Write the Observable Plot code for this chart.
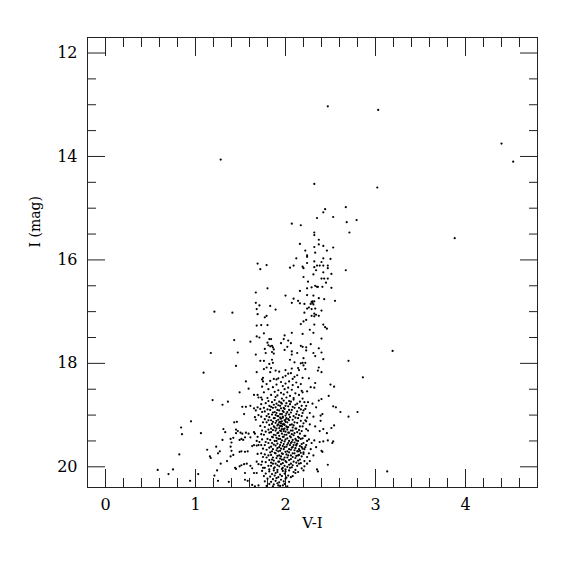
<!DOCTYPE html>
<html><head><meta charset="utf-8">
<script src="https://cdn.jsdelivr.net/npm/d3@7"></script>
<script src="https://cdn.jsdelivr.net/npm/@observablehq/plot@0.6"></script>
<style>body{margin:0;background:#fff;}</style>
</head><body><div id="chart"></div>
<script>
// [V-I, I] pairs
const outliers = [[2.47,13.03],[3.03,13.10],[4.40,13.75],[4.53,14.10],[1.28,14.06],[2.32,14.53],[3.02,14.60],[3.88,15.58],[3.19,17.76],[2.86,18.27],[3.13,20.09]];

const upperBranch = [[2.44,15.02],[2.67,14.98],[2.42,15.08],[2.53,15.17],[2.35,15.19],[2.79,15.23],[2.68,15.27],[2.07,15.30],[2.17,15.33],[2.71,15.47],[2.32,15.47],[2.32,15.52],[2.37,15.61],[2.16,15.69],[2.32,15.75],[2.42,15.73],[2.53,15.76],[2.22,15.82],[2.37,15.70],[2.46,15.82],[2.33,15.86],[2.24,15.91],[2.24,15.94],[2.12,15.97],[2.50,15.98],[2.42,15.97],[2.32,16.03],[2.24,16.06],[2.40,16.04],[2.35,16.11],[2.38,16.11],[2.42,16.11],[2.47,16.11],[2.32,16.14],[2.19,16.13],[2.20,16.16],[2.05,16.15],[2.09,16.11],[2.47,16.16],[2.34,16.20],[2.67,16.20],[1.69,16.07],[1.79,16.10],[1.72,16.18],[2.42,16.24],[2.51,16.27],[2.31,16.28],[2.20,16.33],[2.40,16.36],[2.43,16.36],[2.47,16.36]];

const middleBranch = [[2.25,16.42],[2.45,16.44],[2.33,16.50],[2.35,16.52],[2.36,16.52],[2.41,16.52],[2.51,16.54],[2.24,16.55],[2.29,16.53],[1.67,16.63],[1.80,16.55],[2.16,16.60],[2.00,16.69],[2.24,16.68],[2.31,16.69],[2.37,16.74],[2.43,16.76],[2.09,16.75],[2.07,16.83],[2.14,16.79],[2.16,16.84],[2.21,16.85],[2.29,16.81],[2.30,16.80],[2.32,16.80],[2.28,16.85],[2.30,16.83],[2.31,16.86],[2.55,16.79],[1.67,16.83],[1.71,16.88],[1.83,16.89],[1.89,16.96],[1.68,16.95],[2.24,16.94],[2.26,16.92],[2.29,16.95],[2.33,16.94],[2.40,16.98],[1.69,17.05],[1.79,17.08],[1.77,17.11],[2.21,17.02],[2.32,17.04],[2.34,17.06],[2.29,17.08],[2.32,17.09],[2.37,17.08],[2.23,17.16],[2.20,17.19],[2.17,17.24],[2.32,17.25],[2.42,17.25],[2.44,17.30],[2.46,17.33],[1.68,17.27],[1.73,17.26],[1.80,17.26],[2.27,17.35],[2.07,17.41],[2.19,17.43],[2.31,17.41],[1.76,17.42],[1.68,17.48],[1.71,17.50],[1.82,17.53],[1.84,17.53],[1.99,17.46],[1.98,17.53],[1.95,17.61],[1.80,17.60],[1.81,17.65],[1.83,17.67],[1.85,17.66],[2.03,17.56],[2.06,17.61],[2.02,17.68],[2.17,17.66],[2.19,17.68],[2.23,17.69],[2.28,17.63],[2.40,17.52],[2.37,17.71],[1.77,17.72],[1.86,17.69],[1.87,17.73],[1.78,17.80],[1.85,17.78],[1.87,17.81],[1.99,17.74],[2.07,17.77],[2.13,17.80],[2.23,17.75],[2.31,17.80],[2.40,17.79],[2.33,17.86],[1.67,17.83],[2.07,17.83],[2.20,17.90],[2.05,17.93],[2.10,17.98],[2.17,18.00],[2.19,17.99],[2.22,17.99],[2.20,18.04],[2.42,17.92],[2.70,17.95],[1.72,17.95],[1.76,17.95],[1.85,17.93],[1.82,18.01],[1.86,17.99],[1.79,18.08],[1.76,18.11],[1.84,18.09],[1.83,18.17],[1.89,18.14],[1.93,18.16],[2.00,18.13],[2.07,18.10],[2.14,18.09],[2.15,18.13],[2.22,18.11],[2.37,18.08],[2.36,18.14],[2.40,18.17],[2.03,18.20],[2.06,18.19],[2.00,18.24],[1.97,18.27],[1.92,18.29],[1.87,18.30],[1.75,18.28],[1.74,18.31],[1.68,18.17],[2.10,18.26],[2.13,18.23],[2.19,18.28],[2.26,18.29],[2.08,18.30],[1.90,18.31]];

const blueSide = [[1.21,17.00],[1.41,17.02],[1.43,17.55],[1.61,17.58],[1.17,17.80],[1.47,17.79],[1.45,18.05],[1.09,18.18],[1.56,18.35],[1.59,18.49],[1.49,18.56],[1.65,18.61],[1.69,18.61],[1.70,18.66],[1.19,18.71],[1.36,18.74],[1.30,18.80],[1.52,18.84],[1.56,18.84],[1.61,18.82],[1.65,18.87],[1.67,18.91],[1.69,18.85],[0.95,19.12],[1.54,18.98],[1.66,19.04],[1.67,19.09],[1.70,19.00],[1.43,19.14],[1.46,19.13],[0.84,19.24],[0.85,19.37],[1.06,19.35],[1.31,19.27],[1.33,19.33],[1.45,19.28],[1.47,19.31],[1.45,19.35],[1.50,19.34],[1.52,19.36],[1.56,19.34],[1.59,19.36],[1.61,19.43],[1.55,19.43],[1.51,19.46],[1.49,19.48],[1.53,19.48],[1.39,19.46],[1.42,19.44],[1.40,19.53],[1.30,19.48],[1.65,19.33],[1.66,19.36],[1.69,19.42],[1.68,19.50],[1.71,19.52],[1.23,19.61],[1.39,19.61],[1.40,19.69],[1.49,19.71],[1.51,19.70],[1.55,19.71],[1.58,19.70],[1.63,19.60],[1.65,19.58],[1.68,19.59],[1.70,19.58],[1.69,19.75],[1.13,19.67],[1.27,19.70],[1.25,19.74],[1.16,19.80],[1.17,19.83],[0.82,19.76],[1.28,19.94],[1.35,19.89],[1.39,19.80],[1.42,19.77],[1.44,20.02],[1.45,20.04],[1.49,19.99],[1.51,19.97],[1.54,19.95],[1.57,19.94],[1.61,19.98],[1.63,20.03],[1.68,19.90],[1.70,19.95],[1.65,20.12],[1.68,20.12],[0.58,20.06],[0.70,20.14],[0.75,20.05],[1.24,20.07],[1.21,20.17],[1.03,20.14],[0.94,20.27],[1.25,20.27],[1.37,20.29],[1.55,20.12],[1.55,20.25],[1.58,20.27],[1.66,20.38],[1.70,20.36],[1.63,20.35]];

const redSide = [[2.33,18.38],[2.28,18.46],[2.32,18.47],[2.50,18.41],[2.54,18.45],[2.48,18.63],[2.19,18.56],[2.24,18.54],[2.37,18.72],[2.40,18.69],[2.34,18.85],[2.30,18.78],[2.53,18.83],[2.56,18.85],[2.61,18.94],[2.70,19.03],[2.80,18.94],[2.39,19.01],[2.41,18.98],[2.39,19.11],[2.31,19.03],[2.27,18.96],[2.24,19.05],[2.54,19.20],[2.51,19.25],[2.42,19.27],[2.46,19.35],[2.38,19.31],[2.33,19.22],[2.27,19.18],[2.47,19.49],[2.52,19.54],[2.53,19.51],[2.38,19.52],[2.42,19.51],[2.32,19.49],[2.26,19.47],[2.29,19.54],[2.40,19.69],[2.41,19.71],[2.34,19.62],[2.31,19.78],[2.24,19.81],[2.27,19.89],[2.24,19.94],[2.21,19.99],[2.35,20.05],[2.36,20.09],[2.47,19.96],[2.20,20.07],[2.23,19.12],[2.25,19.30],[2.22,19.40],[2.28,19.66],[2.23,19.58],[2.26,19.74],[2.22,18.88],[2.25,18.75]];

const turnoffTop = [[1.75,18.35],[1.83,18.34],[1.95,18.36],[2.04,18.35],[2.12,18.37],[1.79,18.40],[1.90,18.41],[2.00,18.39],[2.08,18.42],[2.17,18.40],[1.74,18.45],[1.86,18.46],[1.97,18.44],[2.03,18.47],[2.14,18.46],[1.81,18.50],[1.92,18.52],[1.99,18.50],[2.07,18.51],[2.18,18.53],[1.76,18.56],[1.88,18.55],[1.95,18.57],[2.02,18.56],[2.11,18.58],[1.84,18.61],[1.91,18.62],[1.98,18.60],[2.05,18.63],[2.15,18.61],[1.73,18.66],[1.80,18.67],[1.89,18.65],[1.96,18.68],[2.01,18.66],[2.09,18.67],[2.19,18.68]];

const turnoffCore = [
[1.74,18.70],[1.81,18.73],[1.88,18.71],[1.93,18.74],[1.98,18.72],[2.04,18.73],[2.09,18.70],[2.16,18.74],
[1.78,18.77],[1.85,18.75],[1.90,18.78],[1.95,18.76],[2.01,18.77],[2.06,18.74],[2.13,18.78],[2.21,18.75],
[1.73,18.79],[1.82,18.82],[1.87,18.80],[1.92,18.81],[1.96,18.78],[2.00,18.82],[2.05,18.79],[2.11,18.80],[2.18,18.82],
[1.76,18.86],[1.84,18.84],[1.89,18.85],[1.94,18.82],[1.98,18.86],[2.03,18.83],[2.08,18.84],[2.15,18.86],[2.23,18.82],
[1.72,18.88],[1.80,18.89],[1.86,18.86],[1.91,18.90],[1.95,18.87],[1.99,18.88],[2.04,18.90],[2.10,18.86],[2.17,18.89],
[1.77,18.93],[1.83,18.90],[1.88,18.94],[1.93,18.91],[1.97,18.92],[2.02,18.94],[2.07,18.90],[2.13,18.93],[2.20,18.91],
[1.74,18.94],[1.81,18.98],[1.86,18.95],[1.90,18.96],[1.94,18.98],[1.98,18.94],[2.01,18.97],[2.06,18.95],[2.12,18.98],[2.19,18.96],
[1.79,19.02],[1.85,18.99],[1.89,19.00],[1.92,19.02],[1.96,18.98],[2.00,19.01],[2.04,18.99],[2.09,19.02],[2.15,19.00],
[1.73,19.03],[1.82,19.04],[1.87,19.06],[1.91,19.02],[1.94,19.05],[1.97,19.03],[2.01,19.06],[2.05,19.04],[2.11,19.05],[2.18,19.02],
[1.77,19.08],[1.84,19.10],[1.88,19.06],[1.92,19.09],[1.95,19.07],[1.99,19.10],[2.03,19.08],[2.08,19.09],[2.14,19.06],[2.22,19.10],
[1.75,19.14],[1.81,19.10],[1.86,19.13],[1.90,19.11],[1.93,19.14],[1.96,19.12],[2.00,19.13],[2.04,19.10],[2.10,19.14],[2.17,19.11],
[1.79,19.14],[1.85,19.17],[1.89,19.15],[1.92,19.18],[1.95,19.16],[1.98,19.17],[2.02,19.14],[2.07,19.18],[2.13,19.15],[2.20,19.16],
[1.72,19.21],[1.82,19.19],[1.87,19.22],[1.91,19.20],[1.94,19.21],[1.97,19.18],[2.01,19.22],[2.05,19.19],[2.09,19.20],[2.16,19.22],
[1.77,19.23],[1.84,19.26],[1.88,19.24],[1.93,19.25],[1.96,19.22],[1.99,19.26],[2.03,19.23],[2.08,19.24],[2.12,19.26],[2.19,19.22],
[1.74,19.30],[1.81,19.28],[1.86,19.29],[1.90,19.26],[1.94,19.30],[1.98,19.27],[2.02,19.28],[2.06,19.30],[2.11,19.26],[2.15,19.29],[2.23,19.27],
[1.78,19.32],[1.84,19.33],[1.89,19.30],[1.92,19.34],[1.95,19.31],[2.00,19.32],[2.04,19.34],[2.08,19.30],[2.13,19.33],[2.18,19.31],
[1.73,19.37],[1.82,19.34],[1.87,19.38],[1.91,19.35],[1.96,19.36],[1.99,19.38],[2.03,19.34],[2.07,19.37],[2.10,19.35],[2.16,19.36],
[1.76,19.38],[1.85,19.42],[1.89,19.39],[1.93,19.40],[1.97,19.42],[2.01,19.38],[2.05,19.41],[2.09,19.39],[2.14,19.42],[2.21,19.40],
[1.80,19.46],[1.86,19.43],[1.90,19.44],[1.94,19.46],[1.98,19.42],[2.02,19.45],[2.06,19.43],[2.11,19.46],[2.15,19.44],[2.19,19.45],
[1.74,19.47],[1.83,19.48],[1.88,19.50],[1.92,19.46],[1.96,19.49],[2.00,19.47],[2.04,19.50],[2.08,19.48],[2.12,19.49],[2.17,19.46],[2.24,19.50],
[1.78,19.52],[1.85,19.54],[1.90,19.50],[1.95,19.53],[1.99,19.51],[2.03,19.54],[2.07,19.52],[2.10,19.53],[2.14,19.50],[2.20,19.54],
[1.73,19.58],[1.81,19.54],[1.87,19.57],[1.91,19.55],[1.94,19.58],[1.98,19.56],[2.02,19.57],[2.06,19.54],[2.09,19.58],[2.13,19.55],[2.18,19.56],
[1.77,19.58],[1.84,19.61],[1.89,19.59],[1.93,19.62],[1.97,19.60],[2.01,19.61],[2.05,19.58],[2.08,19.62],[2.12,19.59],[2.16,19.60],[2.22,19.62],
[1.75,19.65],[1.82,19.63],[1.86,19.66],[1.91,19.64],[1.95,19.65],[1.99,19.62],[2.04,19.66],[2.07,19.63],[2.11,19.64],[2.15,19.66],[2.19,19.65],
[1.79,19.67],[1.85,19.70],[1.90,19.68],[1.94,19.69],[1.98,19.66],[2.02,19.70],[2.06,19.67],[2.10,19.68],[2.14,19.70],[2.21,19.66],
[1.73,19.74],[1.83,19.72],[1.88,19.73],[1.92,19.70],[1.96,19.74],[2.00,19.71],[2.04,19.72],[2.08,19.74],[2.13,19.70],[2.17,19.73],
[1.77,19.76],[1.84,19.77],[1.89,19.74],[1.93,19.78],[1.97,19.75],[2.01,19.76],[2.06,19.78],[2.10,19.74],[2.15,19.77],[2.20,19.75],
[1.75,19.81],[1.81,19.78],[1.86,19.82],[1.91,19.79],[1.95,19.80],[1.99,19.82],[2.03,19.78],[2.08,19.81],[2.12,19.79],[2.18,19.80],
[1.79,19.82],[1.85,19.86],[1.90,19.83],[1.94,19.84],[1.98,19.86],[2.02,19.82],[2.06,19.85],[2.11,19.83],[2.16,19.86],
[1.74,19.90],[1.82,19.87],[1.87,19.88],[1.92,19.90],[1.96,19.86],[2.00,19.89],[2.04,19.87],[2.09,19.90],[2.14,19.88],[2.21,19.89],
[1.78,19.91],[1.84,19.92],[1.89,19.94],[1.93,19.90],[1.97,19.93],[2.01,19.91],[2.06,19.94],[2.12,19.92],[2.17,19.93],
[1.73,19.96],[1.81,19.98],[1.86,19.94],[1.91,19.97],[1.95,19.95],[1.99,19.98],[2.04,19.96],[2.08,19.97],[2.15,19.94],
[1.77,20.02],[1.84,19.98],[1.88,20.01],[1.93,19.99],[1.97,20.02],[2.02,20.00],[2.07,20.01],[2.13,19.98],
[1.75,20.02],[1.82,20.05],[1.87,20.03],[1.91,20.06],[1.96,20.04],[2.00,20.05],[2.05,20.02],[2.11,20.06],[2.18,20.03],
[1.97,19.05],[1.99,19.19],[1.96,19.27],[2.00,19.09],[1.94,19.13],[1.98,19.31],[2.02,19.24],[1.95,19.21],
[2.12,19.57],[2.16,19.69],[2.18,19.62],[2.14,19.78],[2.20,19.72]];

const turnoffBottom = [[1.74,20.08],[1.82,20.09],[1.87,20.07],[1.91,20.10],[1.97,20.08],[2.00,20.09],[2.04,20.07],[2.09,20.10],[1.78,20.13],[1.85,20.14],[1.89,20.12],[1.94,20.15],[1.99,20.13],[2.03,20.17],[2.06,20.20],[2.11,20.12],[2.14,20.10],[1.76,20.18],[1.83,20.19],[1.88,20.17],[1.92,20.20],[1.96,20.18],[2.01,20.21],[2.08,20.18],[1.80,20.23],[1.86,20.24],[1.90,20.22],[1.95,20.25],[2.00,20.23],[1.77,20.28],[1.84,20.29],[1.89,20.27],[1.93,20.30],[1.98,20.28],[2.04,20.29],[1.82,20.33],[1.87,20.34],[1.91,20.32],[1.99,20.33],[1.79,20.37],[1.86,20.38],[1.92,20.36],[1.94,20.37],[1.97,20.36],[2.02,20.38]];

const xMajor = [0, 1, 2, 3, 4];
const xMinor = [0.2,0.4,0.6,0.8,1.2,1.4,1.6,1.8,2.2,2.4,2.6,2.8,3.2,3.4,3.6,3.8,4.2,4.4,4.6];
const yMajor = [12, 14, 16, 18, 20];
const yMinor = [12.5,13,13.5,14.5,15,15.5,16.5,17,17.5,18.5,19,19.5];
const xTitle = "V-I";
const yTitle = "I (mag)";

const stars = [...outliers, ...upperBranch, ...middleBranch, ...blueSide, ...redSide, ...turnoffTop, ...turnoffCore, ...turnoffBottom]
  .map(([vi, imag]) => ({vi, imag}));

const ink = "#222";
const tickOnly = (fn, values, anchor, size) => fn(values, {anchor, tickSize: -size, fill: "none", stroke: ink, label: null});

const chart = Plot.plot({
  width: 575,
  height: 575,
  marginLeft: 87,
  marginRight: 38,
  marginTop: 37,
  marginBottom: 88,
  style: {fontFamily: "'DejaVu Serif', serif", fontSize: "16px", color: "#000", background: "#fff"},
  x: {domain: [-0.2, 4.8]},
  y: {domain: [11.7, 20.4], reverse: true},
  marks: [
    tickOnly(Plot.axisX, xMajor, "bottom", 18),
    tickOnly(Plot.axisX, xMajor, "top", 18),
    tickOnly(Plot.axisX, xMinor, "bottom", 9),
    tickOnly(Plot.axisX, xMinor, "top", 9),
    tickOnly(Plot.axisY, yMajor, "left", 18),
    tickOnly(Plot.axisY, yMajor, "right", 18),
    tickOnly(Plot.axisY, yMinor, "left", 9),
    tickOnly(Plot.axisY, yMinor, "right", 9),
    Plot.axisX(xMajor, {anchor: "bottom", tickSize: 0, tickPadding: 11, label: null, fontSize: 16, tickFormat: d => String(d)}),
    Plot.axisY(yMajor, {anchor: "left", tickSize: 0, tickPadding: 10, label: null, fontSize: 16, tickFormat: d => String(d)}),
    Plot.text([xTitle], {text: d => d, frameAnchor: "bottom", dy: 40, fontSize: 15, fill: "#000"}),
    Plot.text([yTitle], {text: d => d, frameAnchor: "left", dx: -52, dy: -15, rotate: -90, fontSize: 14, fill: "#000"}),
    Plot.dot(stars, {x: "vi", y: "imag", r: 1.1, fill: "#000", stroke: "none"}),
    Plot.frame({stroke: ink})
  ]
});
document.getElementById("chart").append(chart);
</script>
</body></html>
